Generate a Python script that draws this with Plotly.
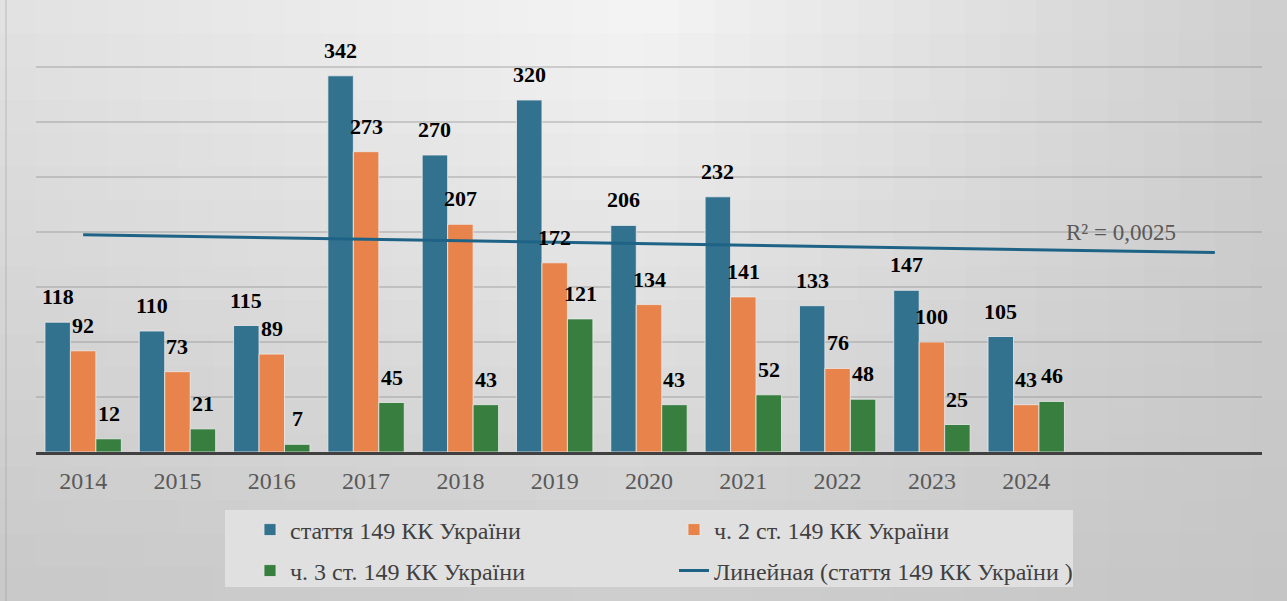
import numpy as np
import plotly.graph_objects as go

# ---------------- data ----------------
years = [2014, 2015, 2016, 2017, 2018, 2019, 2020, 2021, 2022, 2023, 2024]
year_labels = [str(y) for y in years]
art149 = [118, 110, 115, 342, 270, 320, 206, 232, 133, 147, 105]
part2 = [92, 73, 89, 273, 207, 172, 134, 141, 76, 100, 43]
part3 = [12, 21, 7, 45, 43, 121, 43, 52, 48, 25, 46]
series_names = ["стаття 149 КК України", "ч. 2 ст. 149 КК України",
                "ч. 3 ст. 149 КК України"]
trend_name = "Линейная (стаття 149 КК України )"
FORECAST_PERIODS = 2

# ---------------- style ----------------
W, H = 1287, 601
ML, MR, MT, MB = 36, 25, 12, 149
PW, PH = W - ML - MR, H - MT - MB
FONT = "Liberation Serif"
colors = ["#33728F", "#E8834B", "#377E3F"]
trend_color = "#1E6386"
BARGAP = 0.19


def px_to_paper(px, py):
    return (px - ML) / PW, (H - MB - py) / PH


# background gradient (decoration)
def interp(x, pts):
    xs = [p[0] for p in pts]
    vs = [p[1] for p in pts]
    return float(np.interp(x, xs, vs))


top_pts = [(0, 226), (640, 245), (1287, 206)]
bot_pts = [(0, 200), (640, 205), (1287, 197)]
shapes = []
NC, NR = 36, 18
for i in range(NC):
    x0p = i * W / NC
    x1p = (i + 1) * W / NC
    xc = (x0p + x1p) / 2
    for j in range(NR):
        y0p = j * H / NR
        y1p = (j + 1) * H / NR
        t = ((y0p + y1p) / 2) / H
        L = int(round(interp(xc, top_pts) * (1 - t) + interp(xc, bot_pts) * t))
        ax0, ay0 = px_to_paper(x0p - 0.5, y1p + 0.5)
        ax1, ay1 = px_to_paper(x1p + 0.5, y0p - 0.5)
        shapes.append(dict(type="rect", xref="paper", yref="paper",
                           x0=ax0, x1=ax1, y0=ay0, y1=ay1,
                           fillcolor=f"rgb({L},{L},{L})",
                           line=dict(width=0), layer="below"))

# left border line of the picture
bx, by0 = px_to_paper(6, 601)
_, by1 = px_to_paper(6, 0)
shapes.append(dict(type="line", xref="paper", yref="paper", x0=bx, x1=bx,
                   y0=by0, y1=by1, line=dict(color="rgba(150,150,150,0.5)", width=1),
                   layer="below"))

# legend background box
lx0, ly0 = px_to_paper(225, 587)
lx1, ly1 = px_to_paper(1073, 510)
shapes.append(dict(type="rect", xref="paper", yref="paper",
                   x0=lx0, x1=lx1, y0=ly0, y1=ly1,
                   fillcolor="#e0e0e0", line=dict(width=0), layer="below"))

fig = go.Figure()

all_series = [art149, part2, part3]
legends = ["legend", "legend", "legend2"]
for k, (vals, name) in enumerate(zip(all_series, series_names)):
    fig.add_trace(go.Bar(
        x=years, y=vals, name=name, legend=legends[k],
        marker=dict(color=colors[k], line=dict(color="rgba(235,235,235,0.8)", width=1)),
        hoverinfo="x+y+name",
    ))

# linear trend (Excel-style, 2 periods forward)
xi = np.arange(1, len(years) + 1)
slope, intercept = np.polyfit(xi, art149, 1)
pred = slope * xi + intercept
ss_res = float(np.sum((np.array(art149) - pred) ** 2))
ss_tot = float(np.sum((np.array(art149) - np.mean(art149)) ** 2))
r2 = 1 - ss_res / ss_tot
x_end = len(years) + FORECAST_PERIODS
trend_x = [years[0], years[0] + x_end - 1]
trend_y = [slope * 1 + intercept, slope * x_end + intercept]
fig.add_trace(go.Scatter(x=trend_x, y=trend_y, mode="lines", name=trend_name,
                         legend="legend2",
                         line=dict(color=trend_color, width=3)))

# data labels
bar_w = (1 - BARGAP) / 3
annotations = []
for k, vals in enumerate(all_series):
    for yr, v in zip(years, vals):
        annotations.append(dict(
            x=yr + (k - 1) * bar_w, y=v, xref="x", yref="y",
            text=f"<b>{v}</b>", showarrow=False, yanchor="bottom", yshift=11,
            font=dict(family=FONT, size=22, color="#000000")))

annotations.append(dict(
    x=years[-1] + 1, y=200, xref="x", yref="y",
    text=f"R² = {r2:.4f}".replace(".", ","), showarrow=False,
    xanchor="center", yanchor="middle",
    font=dict(family=FONT, size=23, color="#595959")))

leg_x, leg_y1 = px_to_paper(250, 530)
_, leg_y2 = px_to_paper(250, 571)
legend_common = dict(orientation="h", xanchor="left", yanchor="middle",
                     bgcolor="rgba(0,0,0,0)", entrywidth=379,
                     entrywidthmode="pixels", traceorder="normal",
                     font=dict(family=FONT, size=24, color="#404040"))

fig.update_layout(
    width=W, height=H,
    margin=dict(l=ML, r=MR, t=MT, b=MB, autoexpand=False),
    paper_bgcolor="#d8d8d8",
    plot_bgcolor="rgba(0,0,0,0)",
    font=dict(family=FONT),
    barmode="group", bargap=BARGAP, bargroupgap=0,
    shapes=shapes,
    annotations=annotations,
    legend=dict(x=leg_x, y=leg_y1, **legend_common),
    legend2=dict(x=leg_x, y=leg_y2, **legend_common),
    xaxis=dict(range=[years[0] - 0.5, years[-1] + FORECAST_PERIODS + 0.5],
               tickmode="array", tickvals=years, ticktext=year_labels,
               showgrid=False, zeroline=False, showline=True,
               linecolor="#404040", linewidth=3,
               ticks="outside", ticklen=5, tickcolor="rgba(0,0,0,0)",
               tickfont=dict(family=FONT, size=24, color="#595959")),
    yaxis=dict(range=[0, 400], dtick=50, showgrid=True,
               gridcolor="rgba(130,130,130,0.32)", gridwidth=2,
               showticklabels=False, zeroline=False, showline=False),
    showlegend=True,
)

fig.write_html("out.html", config={"displayModeBar": False},
               post_script="document.body.style.margin='0';document.body.style.overflow='hidden';")
